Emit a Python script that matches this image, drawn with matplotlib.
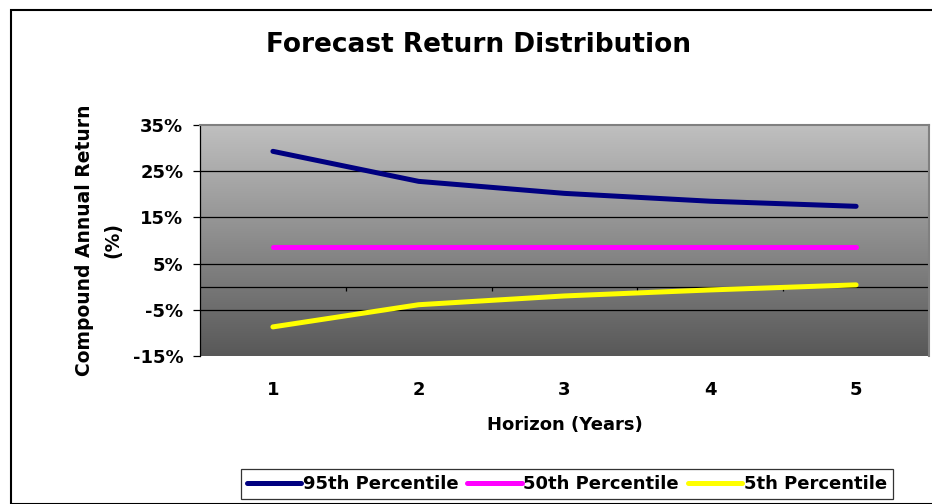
import numpy as np
import matplotlib
matplotlib.use("Agg")
import matplotlib.pyplot as plt
from matplotlib.patches import Rectangle

plt.rcParams['font.family'] = ['DejaVu Sans']
plt.rcParams['font.weight'] = 'bold'

horizons = [1, 2, 3, 4, 5]
p95 = [29.3, 22.8, 20.2, 18.5, 17.4]
p50 = [8.7, 8.7, 8.7, 8.7, 8.7]
p05 = [-8.7, -3.9, -2.0, -0.7, 0.4]
y_ticks = [-15, -5, 5, 15, 25, 35]
series_names = ["95th Percentile", "50th Percentile", "5th Percentile"]
series_colors = ["#000080", "#FF00FF", "#FFFF00"]

W, H = 932, 504
fig = plt.figure(figsize=(W / 100, H / 100), dpi=100)

# outer chart frame
fig.patches.append(Rectangle((10.5 / W, 0), 1.0, 1 - 9.5 / H, transform=fig.transFigure,
                             fill=False, edgecolor='black', linewidth=1.5, zorder=0))

left, right, top, bottom = 200, 929, 125, 356
ax = fig.add_axes([left / W, 1 - bottom / H, (right - left) / W, (bottom - top) / H])

# vertical grey gradient background
grad = np.linspace(0, 1, 256).reshape(-1, 1)
top_c = np.array([0xC0, 0xC0, 0xC0]) / 255
bot_c = np.array([0x58, 0x58, 0x58]) / 255
img = top_c * (1 - grad[..., None]) + bot_c * grad[..., None]
ax.imshow(img, extent=(0.5, 5.5, -15, 35), aspect='auto', origin='upper', zorder=0)

ax.set_xlim(0.5, 5.5)
ax.set_ylim(-15, 35)

for y in [-5, 5, 15, 25]:
    ax.axhline(y, color='black', linewidth=0.9, zorder=1)
ax.axhline(0, color='black', linewidth=0.9, zorder=1)
ax.vlines([1.5, 2.5, 3.5, 4.5, 5.5], 0, -0.9, color='black', linewidth=0.9, zorder=1)

for vals, name, col in zip([p95, p50, p05], series_names, series_colors):
    ax.plot(horizons, vals, color=col, linewidth=3.6, solid_capstyle='round',
            label=name, zorder=3)

ax.set_yticks(y_ticks)
ax.set_yticklabels([f"{v}%" for v in y_ticks], fontsize=13, fontweight='bold')
ax.set_xticks(horizons)
ax.set_xticklabels([str(h) for h in horizons], fontsize=13, fontweight='bold')
ax.tick_params(axis='x', length=0, pad=18)
ax.tick_params(axis='y', length=5, width=0.9, pad=7)

for s in ['top', 'right']:
    ax.spines[s].set_color('#808080')
    ax.spines[s].set_linewidth(1.5)
ax.spines['bottom'].set_visible(False)
ax.spines['left'].set_color('black')
ax.spines['left'].set_linewidth(0.9)

ax.set_xlabel("Horizon (Years)", fontsize=13, fontweight='bold', labelpad=12)
ax.set_ylabel("Compound Annual Return\n(%)", fontsize=13.5, fontweight='bold',
              linespacing=1.6)
ax.yaxis.set_label_coords((122 - left) / (right - left), 0.5)

fig.text(478 / W, 1 - 45 / H, "Forecast Return Distribution", ha='center', va='center',
         fontsize=19, fontweight='bold')

leg = fig.legend(loc='center', bbox_to_anchor=(567 / W, 1 - 484 / H), ncol=3,
                 fontsize=13, frameon=True, fancybox=False, handlelength=3.0,
                 handletextpad=0.1, columnspacing=0.5, borderpad=0.35,
                 borderaxespad=0)
leg.get_frame().set_edgecolor('black')
leg.get_frame().set_linewidth(0.9)
for line in leg.get_lines():
    line.set_linewidth(3.6)

fig.savefig("out.png", dpi=100)
